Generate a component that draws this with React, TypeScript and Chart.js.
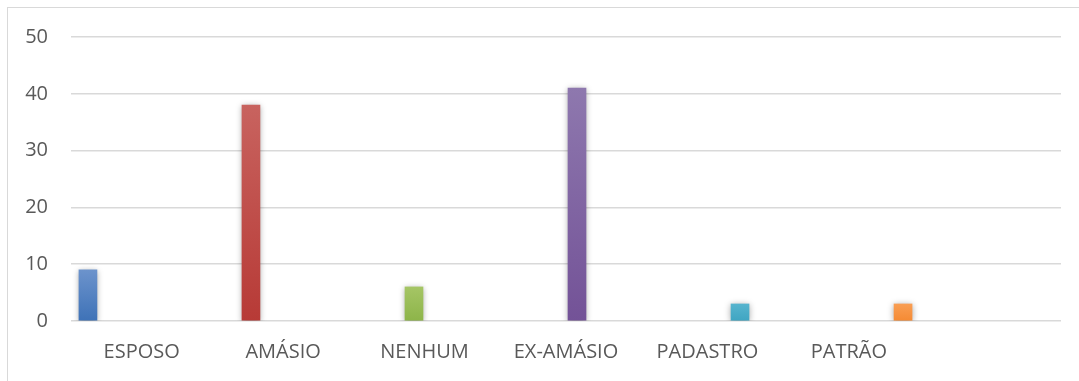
import React, { useEffect, useRef } from "react";
import { Chart, registerables } from "chart.js";

Chart.register(...registerables);

const categories = ["ESPOSO", "AMÁSIO", "NENHUM", "EX-AMÁSIO", "PADASTRO", "PATRÃO", ""];
const values = [9, 38, 6, 41, 3, 3];
const barIndex = [0, 1, 2, 3, 4, 5];
const yTicks = [0, 10, 20, 30, 40, 50];

const topColors = ["#6C93CC", "#C8635F", "#A5C565", "#8E78AE", "#56B4CE", "#F99E53"];
const bottomColors = ["#3E72B7", "#B73A36", "#8DB449", "#735297", "#3FA5C2", "#F58A33"];

const shadowPlugin = {
  id: "barShadow",
  beforeDatasetsDraw(chart: any) {
    const c = chart.ctx;
    c.save();
    c.shadowColor = "rgba(0,0,0,0.35)";
    c.shadowBlur = 6;
    c.shadowOffsetX = 0;
    c.shadowOffsetY = 1;
  },
  afterDatasetsDraw(chart: any) {
    chart.ctx.restore();
  },
};

export default function App() {
  const ref = useRef<HTMLCanvasElement | null>(null);

  useEffect(() => {
    if (!ref.current) return;
    const chart = new Chart(ref.current, {
      type: "bar",
      data: {
        labels: categories,
        datasets: [
          {
            data: values.map((v, i) => ({ x: barIndex[i], y: v })),
            xAxisID: "xb",
            yAxisID: "y",
            barThickness: 18,
            borderWidth: 0,
            backgroundColor: (ctx: any) => {
              const ch = ctx.chart;
              const { chartArea, scales } = ch;
              const i = ctx.dataIndex;
              if (!chartArea || i === undefined) return bottomColors[i || 0];
              const top = scales.y.getPixelForValue(values[i]);
              const bottom = scales.y.getPixelForValue(0);
              const g = ch.ctx.createLinearGradient(0, top, 0, bottom);
              g.addColorStop(0, topColors[i]);
              g.addColorStop(1, bottomColors[i]);
              return g;
            },
          } as any,
        ],
      },
      options: {
        animation: false,
        responsive: false,
        maintainAspectRatio: false,
        layout: { padding: { left: 0, right: 18, top: 29, bottom: 0 } },
        plugins: {
          legend: { display: false },
          tooltip: { enabled: false },
        },
        scales: {
          x: {
            type: "category",
            position: "bottom",
            offset: true,
            grid: { display: false, drawTicks: false },
            border: { display: false },
            afterFit: (s: any) => {
              s.height = 60;
              s.paddingLeft = 0;
              s.paddingRight = 0;
            },
            ticks: {
              padding: 19,
              color: "#595959",
              font: { family: "'Open Sans'", size: 20 },
              maxRotation: 0,
              autoSkip: false,
            },
          },
          xb: {
            type: "linear",
            display: false,
            min: -0.104,
            max: 5.969,
            offset: false,
          },
          y: {
            type: "linear",
            min: yTicks[0],
            max: yTicks[yTicks.length - 1],
            afterFit: (s: any) => {
              s.width = 63;
              s.paddingTop = 0;
              s.paddingBottom = 0;
            },
            ticks: {
              stepSize: 10,
              padding: 23,
              color: "#595959",
              font: { family: "'Open Sans'", size: 20 },
            },
            grid: { color: "#d9d9d9", lineWidth: 1.5, drawTicks: false },
            border: { display: false },
          },
        },
      } as any,
      plugins: [shadowPlugin],
    });
    return () => chart.destroy();
  }, []);

  return (
    <div
      style={{
        position: "absolute",
        left: 7,
        top: 7,
        width: 1072,
        height: 374,
        borderLeft: "1px solid #d9d9d9",
        borderTop: "1px solid #d9d9d9",
        background: "#fff",
        overflow: "hidden",
      }}
    >
      <canvas
        ref={ref}
        width={1071}
        height={373}
        style={{ position: "absolute", left: 0, top: 0, width: 1071, height: 373 }}
      />
    </div>
  );
}
